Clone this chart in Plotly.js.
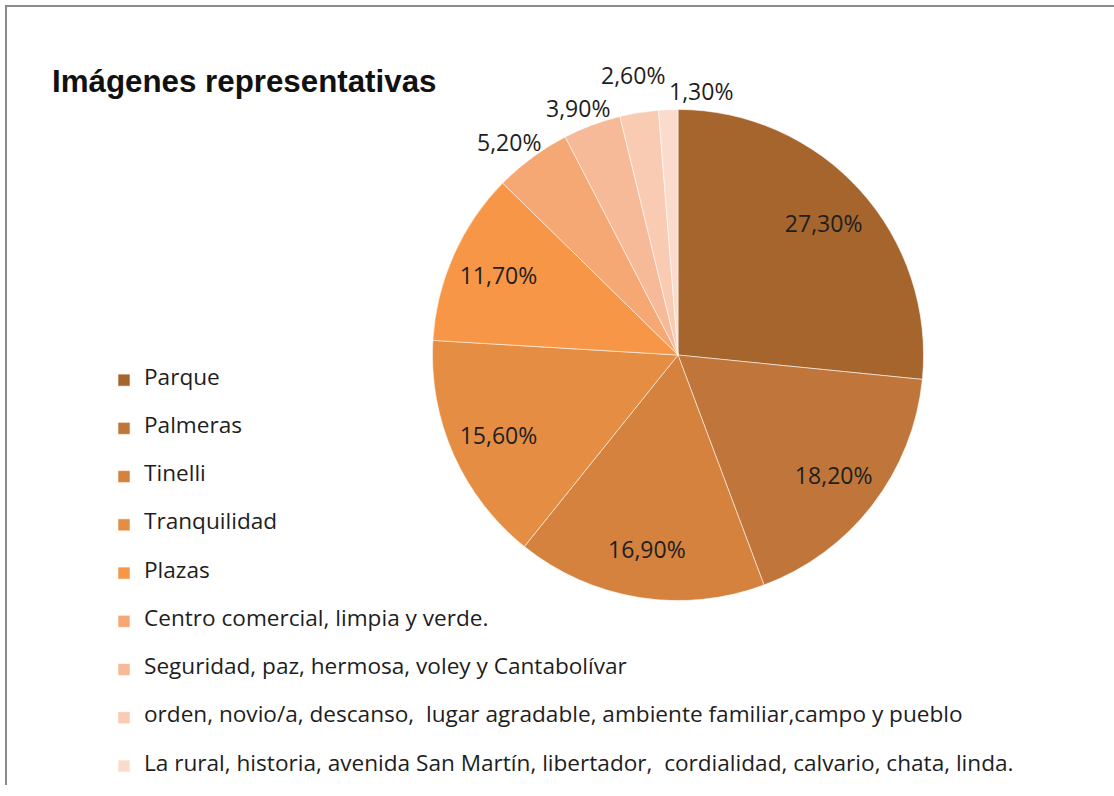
<!DOCTYPE html>
<html>
<head>
<meta charset="utf-8">
<script src="https://cdn.plot.ly/plotly-3.0.1.min.js"></script>
<style>html,body{margin:0;padding:0;background:#fff;}#chart{width:1114px;height:796px;}</style>
</head>
<body>
<div id="chart"></div>
<script>
const categories = [
  "Parque",
  "Palmeras",
  "Tinelli",
  "Tranquilidad",
  "Plazas",
  "Centro comercial, limpia y verde.",
  "Seguridad, paz, hermosa, voley y Cantabolívar",
  "orden, novio/a, descanso,  lugar agradable, ambiente familiar,campo y pueblo",
  "La rural, historia, avenida San Martín, libertador,  cordialidad, calvario, chata, linda."
];
const values = [27.3, 18.2, 16.9, 15.6, 11.7, 5.2, 3.9, 2.6, 1.3];
const colors = ["#A7652E", "#C0763A", "#D5823F", "#E68D44", "#F79646", "#F6A874", "#F7BA98", "#F9CBB3", "#FBDCCC"];
const labelPositions = ["inside", "inside", "inside", "inside", "inside", "outside", "outside", "outside", "outside"];

const textLabels = values.map(v => v.toFixed(2).replace('.', ',') + '%');

// layout geometry (pixels)
const W = 1114, H = 796;
const cxPx = 678, cyPx = 360, R = 249;
const pctFont = 23;
const legendFs = 11.6;
const itemFs = 22.6;
const legendLabels = categories.map(c => ' <br><span style="font-size:' + itemFs + 'px">' + c + '</span><br> ');
const domain = {x: [(cxPx - R) / W, (cxPx + R) / W], y: [(H - cyPx - R) / H, (H - cyPx + R) / H]};

// full pie (colours + legend)
const basePie = {
  type: 'pie',
  labels: legendLabels,
  values: values,
  textinfo: 'none',
  sort: false,
  direction: 'clockwise',
  rotation: 0,
  marker: {colors: colors, line: {color: 'rgba(255,255,255,0.55)', width: 1}},
  domain: domain,
  hoverinfo: 'skip'
};

// ring overlay carrying the inside percentage labels (pushed outward like the original)
const labelPie = {
  type: 'pie',
  labels: legendLabels,
  values: values,
  text: textLabels,
  textinfo: 'text',
  textposition: labelPositions.map(p => p === 'inside' ? 'inside' : 'none'),
  insidetextorientation: 'horizontal',
  hole: 0.6,
  sort: false,
  direction: 'clockwise',
  rotation: 0,
  showlegend: false,
  marker: {colors: values.map(() => 'rgba(0,0,0,0)'), line: {width: 0}},
  insidetextfont: {family: 'Open Sans', size: pctFont, color: '#1e1e1e'},
  textfont: {family: 'Open Sans', size: pctFont, color: '#1e1e1e'},
  domain: domain,
  hoverinfo: 'skip'
};

// outside labels for the small slices, placed from the slice angles
const ctx = document.createElement('canvas').getContext('2d');
ctx.font = pctFont + 'px "Open Sans"';
const total = values.reduce((a, b) => a + b, 0);
let cum = 0;
const boxes = [];
const annotations = [];
values.forEach((v, i) => {
  const mid = (cum + v / 2) / total * 2 * Math.PI;
  cum += v;
  if (labelPositions[i] !== 'outside') return;
  const s = Math.sin(mid), c = Math.cos(mid);
  const w = ctx.measureText(textLabels[i]).width, h = pctFont * 1.3;
  const px = cxPx + (R + 4) * s, py = cyPx - (R + 4) * c;
  let bx = px + (w / 2) * s, by = py - (h / 2) * c;
  boxes.forEach(b => {
    const ox = Math.min(bx + w / 2, b.x + b.w / 2) - Math.max(bx - w / 2, b.x - b.w / 2);
    const oy = Math.min(by + h / 2, b.y + b.h / 2) - Math.max(by - h / 2, b.y - b.h / 2);
    if (ox > 0 && oy > 0) {
      // labels near 12 o'clock slide sideways into the free space, others move up
      if (Math.abs(s) > 0.1) by -= (by + h / 2) - (b.y - b.h / 2) + 3;
      else bx += (b.x + b.w / 2) - (bx - w / 2) + 4;
    }
  });
  boxes.push({x: bx, y: by, w: w, h: h});
  annotations.push({
    text: textLabels[i], showarrow: false,
    xref: 'paper', yref: 'paper', x: bx / W, y: 1 - by / H,
    xanchor: 'center', yanchor: 'middle',
    font: {family: 'Open Sans', size: pctFont, color: '#1e1e1e'}
  });
});

const layout = {
  width: W, height: H,
  margin: {l: 0, r: 0, t: 0, b: 0},
  paper_bgcolor: '#ffffff',
  title: {
    text: 'Imágenes representativas',
    font: {family: 'Liberation Sans', size: 31.3, color: '#111', weight: 'bold'},
    x: 52 / W, xanchor: 'left', xref: 'paper',
    y: 1 - 82 / H, yanchor: 'middle', yref: 'paper'
  },
  showlegend: true,
  legend: {
    x: 104 / W, xanchor: 'left',
    y: (H - 356) / H, yanchor: 'top',
    font: {family: 'Open Sans', size: legendFs, color: '#1e1e1e'},
    bgcolor: 'rgba(0,0,0,0)',
    traceorder: 'normal'
  },
  annotations: annotations,
  shapes: [
    {type: 'line', xref: 'paper', yref: 'paper', x0: 5 / W, x1: 1, y0: 1 - 6 / H, y1: 1 - 6 / H, line: {color: '#8a8a8a', width: 2}},
    {type: 'line', xref: 'paper', yref: 'paper', x0: 6 / W, x1: 6 / W, y0: 0, y1: 1 - 6 / H, line: {color: '#8a8a8a', width: 2}}
  ]
};

Plotly.newPlot('chart', [basePie, labelPie], layout, {displayModeBar: false});
</script>
</body>
</html>
